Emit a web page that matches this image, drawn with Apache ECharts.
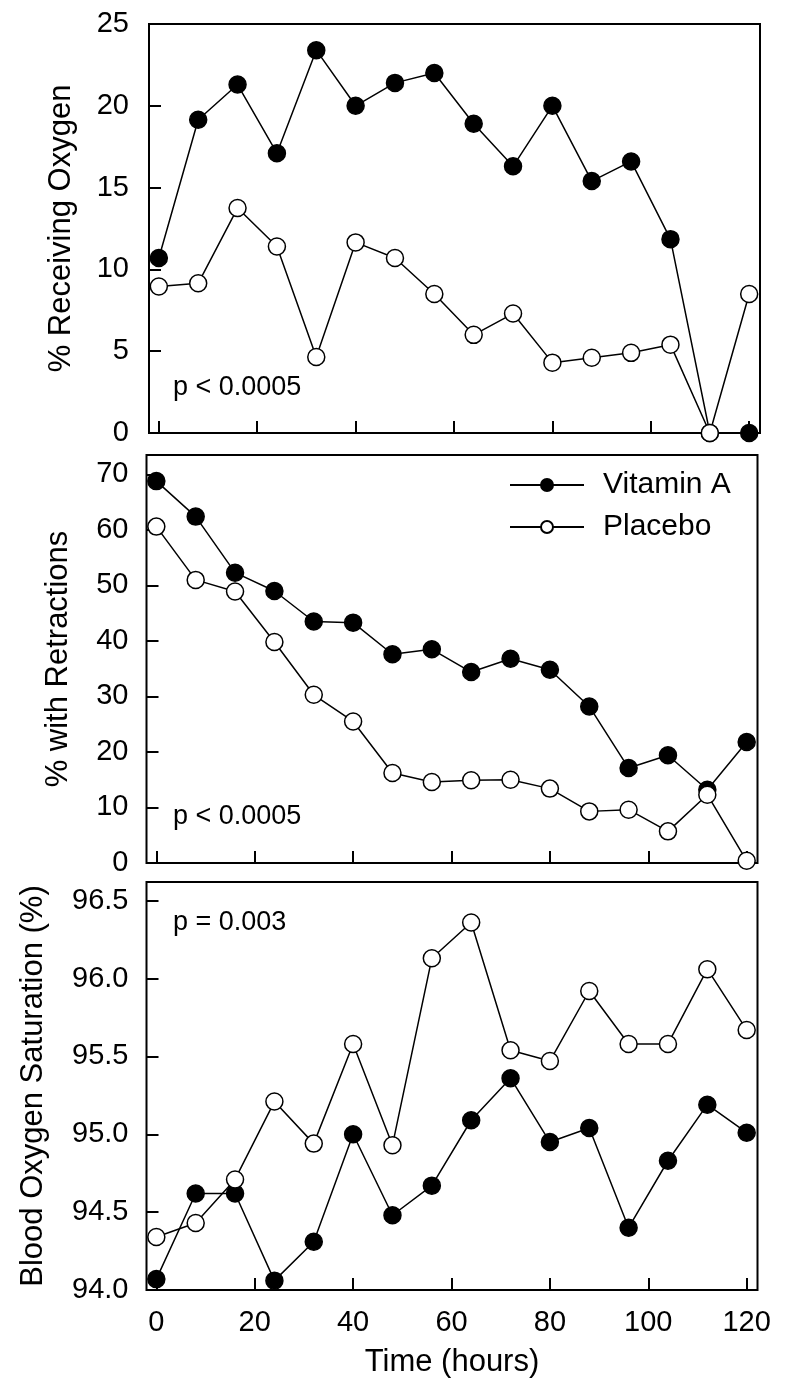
<!DOCTYPE html>
<html>
<head>
<meta charset="utf-8">
<script src="https://cdn.jsdelivr.net/npm/echarts@6/dist/echarts.min.js"></script>
<style>
html,body{margin:0;padding:0;background:#fff;}
#chart{width:790px;height:1385px;}
</style>
</head>
<body>
<div id="chart"></div>
<script>
// ---- data ----
const hours = [0, 8, 16, 24, 32, 40, 48, 56, 64, 72, 80, 88, 96, 104, 112, 120];
const oxygenVitA = [10.7, 19.15, 21.3, 17.1, 23.4, 20.0, 21.4, 22.0, 18.9, 16.3, 20.0, 15.4, 16.6, 11.85, 0, 0];
const oxygenPlacebo = [8.95, 9.15, 13.75, 11.4, 4.65, 11.65, 10.7, 8.5, 6.0, 7.3, 4.3, 4.6, 4.9, 5.4, 0, 8.5];
const retractVitA = [68.8, 62.4, 52.3, 49.0, 43.5, 43.3, 37.6, 38.5, 34.4, 36.8, 34.8, 28.2, 17.1, 19.4, 13.2, 21.8];
const retractPlacebo = [60.6, 51.0, 48.9, 39.8, 30.3, 25.5, 16.2, 14.6, 14.9, 15.0, 13.4, 9.3, 9.6, 5.7, 12.3, 0.4];
const satVitA = [94.07, 94.62, 94.62, 94.06, 94.31, 95.0, 94.48, 94.67, 95.09, 95.36, 94.95, 95.04, 94.40, 94.83, 95.19, 95.01];
const satPlacebo = [94.34, 94.43, 94.71, 95.21, 94.94, 95.58, 94.93, 96.13, 96.36, 95.54, 95.47, 95.92, 95.58, 95.58, 96.06, 95.67];

const xTicks = [0, 20, 40, 60, 80, 100, 120];
const yTicksOxygen = [0, 5, 10, 15, 20, 25];
const yTicksRetract = [0, 10, 20, 30, 40, 50, 60, 70];
const yTicksSat = [94.0, 94.5, 95.0, 95.5, 96.0, 96.5];

const seriesNames = ['Vitamin A', 'Placebo'];
const yTitles = ['% Receiving Oxygen', '% with Retractions', 'Blood Oxygen Saturation (%)'];
const xTitle = 'Time (hours)';
const pTexts = ['p < 0.0005', 'p < 0.0005', 'p = 0.003'];

// ---- chart ----
const FONT = '"Liberation Sans", Arial, sans-serif';
const chart = echarts.init(document.getElementById('chart'), null, {renderer: 'canvas'});

const pairs = (ys) => hours.map((h, i) => [h, ys[i]]);

const grids = [
  {left: 149, top: 24, width: 611, height: 409},
  {left: 146.5, top: 455, width: 611, height: 408},
  {left: 146.5, top: 882, width: 611, height: 408}
].map(g => Object.assign(g, {show: true, borderColor: '#000', borderWidth: 2, backgroundColor: 'transparent', containLabel: false}));

function xAxis(idx, showLabels) {
  return {
    type: 'value', gridIndex: idx, min: -2, max: 122.2,
    axisLine: {show: false, onZero: false},
    splitLine: {show: false},
    axisTick: {show: true, inside: true, length: 12, lineStyle: {color: '#000', width: 2}, customValues: xTicks},
    axisLabel: {show: showLabels, customValues: xTicks, color: '#000', fontFamily: FONT, fontSize: 29, margin: 18},
    name: showLabels ? xTitle : '',
    nameLocation: 'middle', nameGap: 57,
    nameTextStyle: {color: '#000', fontFamily: FONT, fontSize: 31}
  };
}
function yAxis(idx, min, max, ticks, title, gap, fmt, margin) {
  return {
    type: 'value', gridIndex: idx, min: min, max: max,
    axisLine: {show: false, onZero: false},
    splitLine: {show: false},
    axisTick: {show: true, inside: true, length: 12, lineStyle: {color: '#000', width: 2}, customValues: ticks},
    axisLabel: {customValues: ticks, color: '#000', fontFamily: FONT, fontSize: 29, margin: margin, formatter: fmt},
    name: title, nameLocation: 'middle', nameRotate: 90, nameGap: gap,
    nameTextStyle: {color: '#000', fontFamily: FONT, fontSize: 31}
  };
}

function lineSeries(name, idx, ys, filled) {
  return {
    type: 'line', name: name, xAxisIndex: idx, yAxisIndex: idx,
    data: pairs(ys), clip: false,
    symbol: 'circle', symbolSize: 17,
    lineStyle: {color: '#000', width: 1.5},
    itemStyle: {color: filled ? '#000' : '#fff', borderColor: '#000', borderWidth: 1.5},
    emphasis: {disabled: true},
    animation: false
  };
}

const option = {
  backgroundColor: '#fff',
  animation: false,
  grid: grids,
  xAxis: [xAxis(0, false), xAxis(1, false), xAxis(2, true)],
  yAxis: [
    yAxis(0, 0, 25, yTicksOxygen, yTitles[0], 72, v => String(v), 20),
    yAxis(1, 0, 73.5, yTicksRetract, yTitles[1], 73, v => String(v), 18),
    yAxis(2, 94, 96.62, yTicksSat, yTitles[2], 98, v => v.toFixed(1), 18)
  ],
  legend: {
    data: seriesNames,
    orient: 'vertical',
    left: 504, top: 465,
    itemWidth: 74, itemHeight: 15, itemGap: 12,
    textStyle: {color: '#000', fontFamily: FONT, fontSize: 30, padding: [0, 0, 0, 14]},
    selectedMode: false
  },
  graphic: [
    {type: 'text', left: 173, top: 374, style: {text: pTexts[0], font: '27px ' + FONT, fill: '#000'}},
    {type: 'text', left: 173, top: 803, style: {text: pTexts[1], font: '27px ' + FONT, fill: '#000'}},
    {type: 'text', left: 173, top: 909, style: {text: pTexts[2], font: '27px ' + FONT, fill: '#000'}}
  ],
  series: [
    lineSeries(seriesNames[0], 0, oxygenVitA, true),
    lineSeries(seriesNames[1], 0, oxygenPlacebo, false),
    lineSeries(seriesNames[0], 1, retractVitA, true),
    lineSeries(seriesNames[1], 1, retractPlacebo, false),
    lineSeries(seriesNames[0], 2, satVitA, true),
    lineSeries(seriesNames[1], 2, satPlacebo, false)
  ]
};
chart.setOption(option);
</script>
</body>
</html>
